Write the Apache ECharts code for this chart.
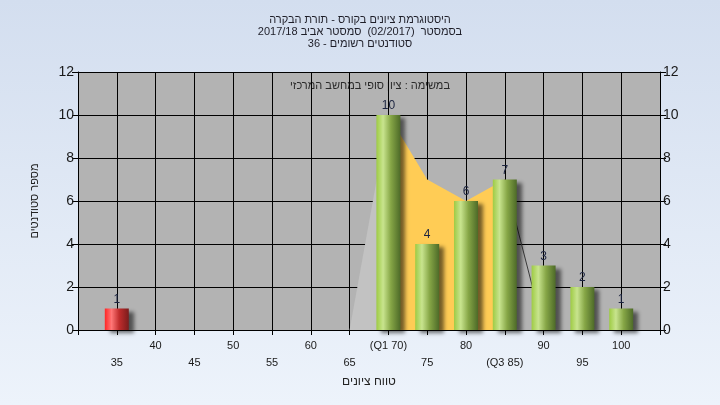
<!DOCTYPE html>
<html>
<head>
<meta charset="utf-8">
<script src="https://cdn.jsdelivr.net/npm/echarts@6/dist/echarts.min.js"></script>
<style>html,body{margin:0;padding:0;}#c{width:720px;height:405px;}</style>
</head>
<body>
<div id="c"></div>
<script>
const titleLines = ["היסטוגרמת ציונים בקורס - תורת הבקרה", "בסמסטר  (02/2017)  סמסטר אביב 2017/18", "סטודנטים רשומים - 36"];
const noteText = "במשימה : ציון סופי במחשב המרכזי";
const xName = "טווח ציונים";
const yName = "מספר סטודנטים";
const categories = [35, 40, 45, 50, 55, 60, 65, 70, 75, 80, 85, 90, 95, 100];
const counts = [1, 0, 0, 0, 0, 0, 0, 10, 4, 6, 7, 3, 2, 1];
const failIndex = [0];
const specialLabels = {70: "(Q1 70)", 85: "(Q3 85)"};
const grayArea = [[65, 0], [70, 10]];
const iqrArea = [[70, 10], [75, 7], [80, 6], [85, 7]];
const tailLine = [[85, 7], [90, 0]];
const yTicks = [0, 2, 4, 6, 8, 10, 12];

const FONT = '"Liberation Sans", "DejaVu Sans", Arial, sans-serif';
function grad(stops) {
  return new echarts.graphic.LinearGradient(0, 0, 1, 0, stops.map((c) => ({offset: c[0], color: c[1]})));
}
const green = () => grad([[0, '#9ecb44'], [0.28, '#c8e48e'], [0.6, '#86a646'], [1, '#4d6a28']]);
const red = () => grad([[0, '#ff2626'], [0.28, '#ff7676'], [0.6, '#c02c2c'], [1, '#7a1c1c']]);

const barData = categories.map((c, i) => ({
  value: [c, counts[i]],
  itemStyle: {color: failIndex.includes(i) ? red() : green()},
  label: {show: counts[i] > 0}
}));

const chart = echarts.init(document.getElementById('c'), null, {renderer: 'canvas'});
chart.setOption({
  animation: false,
  backgroundColor: new echarts.graphic.LinearGradient(0, 0, 0, 1, [{offset: 0, color: '#d3deef'}, {offset: 1, color: '#edf3fb'}]),
  textStyle: {fontFamily: FONT},
  title: {
    text: titleLines.join('\n'),
    left: 'center', top: 9,
    textStyle: {fontSize: 11, fontWeight: 'normal', color: '#1e1e28', lineHeight: 12, fontFamily: FONT}
  },
  graphic: [{
    type: 'text', x: 370, y: 86,
    style: {text: noteText, fill: '#2a2a2a', font: '11px ' + FONT, textAlign: 'center', textVerticalAlign: 'middle'}
  }],
  grid: {left: 78, right: 60, top: 72, bottom: 75, show: true, backgroundColor: '#b3b3b3', borderWidth: 0},
  xAxis: {
    type: 'value', min: 30, max: 105, interval: 5,
    name: xName, nameLocation: 'middle', nameGap: 45,
    nameTextStyle: {fontSize: 12, color: '#222', fontFamily: FONT},
    axisLine: {show: true, lineStyle: {color: '#000', width: 1}},
    axisTick: {show: true, length: 5, lineStyle: {color: '#000'}},
    splitLine: {show: true, lineStyle: {color: '#000', width: 1}},
    axisLabel: {
      margin: 7, fontSize: 11, color: '#1a1a1a', lineHeight: 17, fontFamily: FONT,
      formatter: function (v) {
        if (v < 35 || v > 100) return '';
        const t = specialLabels[v] || String(v);
        return (v % 10 === 5) ? '\n' + t : t;
      }
    }
  },
  yAxis: [{
    type: 'value', min: 0, max: 12, interval: 2, position: 'left',
    name: yName, nameLocation: 'middle', nameGap: 38,
    nameTextStyle: {fontSize: 11, color: '#222', fontFamily: FONT},
    axisLine: {show: true, lineStyle: {color: '#000'}},
    axisTick: {show: true, length: 6, lineStyle: {color: '#000'}},
    splitLine: {show: true, lineStyle: {color: '#000', width: 1}},
    axisLabel: {fontSize: 14, color: '#1a1a1a', margin: 4, fontFamily: FONT}
  }, {
    type: 'value', min: 0, max: 12, interval: 2, position: 'right',
    axisLine: {show: true, lineStyle: {color: '#000'}},
    axisTick: {show: true, length: 6, lineStyle: {color: '#000'}},
    splitLine: {show: false},
    axisLabel: {fontSize: 14, color: '#1a1a1a', margin: 3, fontFamily: FONT}
  }],
  series: [{
    type: 'line', data: grayArea, symbol: 'none', z: 1,
    lineStyle: {width: 0}, areaStyle: {color: '#c2c2c2', opacity: 1}
  }, {
    type: 'line', data: iqrArea, symbol: 'none', z: 1,
    lineStyle: {width: 0}, areaStyle: {color: '#ffcc55', opacity: 1}
  }, {
    type: 'line', data: tailLine, symbol: 'none', z: 1,
    lineStyle: {width: 1, color: '#3a3a3a'}
  }, {
    type: 'bar', data: barData, barWidth: 24, z: 3,
    itemStyle: {shadowColor: 'rgba(0,0,0,0.55)', shadowBlur: 4, shadowOffsetX: 5, shadowOffsetY: 3},
    label: {show: true, position: 'top', distance: 3, fontSize: 12, color: '#1c2440', fontFamily: FONT}
  }]
});
</script>
</body>
</html>
